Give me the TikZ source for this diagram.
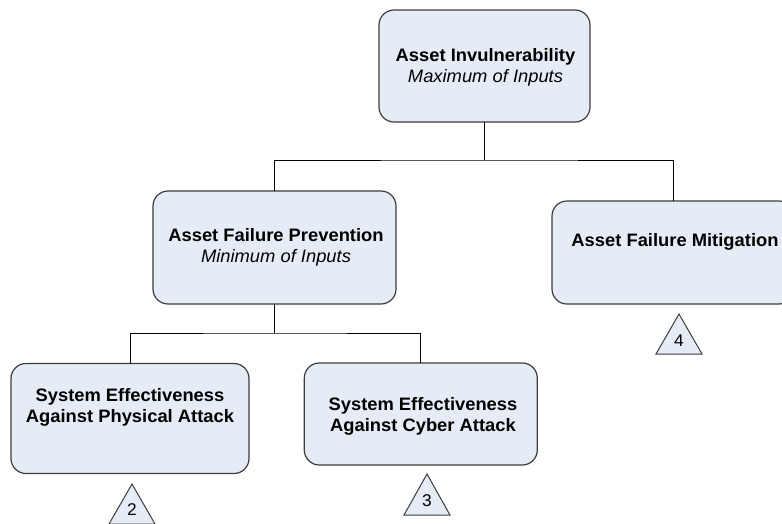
\documentclass[tikz,border=0pt]{standalone}
\usepackage{fontspec}
\setmainfont{Liberation Sans}[FakeStretch=1.02]
\definecolor{boxfill}{RGB}{230,236,246}
\definecolor{boxline}{RGB}{60,60,60}
\begin{document}
\begin{tikzpicture}[x=1pt,y=-1pt,
  treebox/.style={draw=boxline, fill=boxfill, line width=1.2pt,
    rounded corners=15pt, inner sep=0pt, outer sep=0pt},
  boxtext/.style={align=center, inner sep=0pt,
    font=\fontsize{18}{21}\selectfont},
  link/.style={draw=black, line width=1pt},
  tri/.style={draw=boxline, fill=boxfill, line width=1pt, line join=miter},
  trinum/.style={font=\fontsize{17}{17}\selectfont, inner sep=0pt}]
\useasboundingbox (0,0) rectangle (782,523);

% tree boxes
\node[treebox, minimum width=211pt, minimum height=112pt] (top)   at (484.5,66)  {};
\node[treebox, minimum width=243pt, minimum height=113pt] (prev)  at (274.5,247.5) {};
\node[treebox, minimum width=242pt, minimum height=103pt] (miti)  at (673,252.5) {};
\node[treebox, minimum width=238pt, minimum height=110pt] (phys)  at (130,418.5) {};
\node[treebox, minimum width=233pt, minimum height=102pt] (cyber) at (420.8,414) {};

% box labels
\node[boxtext] (topT) at (485.5,67)
  {\textbf{Asset Invulnerability}\\\textit{Maximum of Inputs}};
\node[boxtext] (prevT) at (276,247.5)
  {\textbf{Asset Failure Prevention}\\\textit{Minimum of Inputs}};
\node[boxtext, anchor=base] (mitiT) at (675,246) {\textbf{Asset Failure Mitigation}};
\node[boxtext] (physT) at (130,407.5)
  {\textbf{System Effectiveness}\\\textbf{Against Physical Attack}};
\node[boxtext] (cyberT) at (423,416)
  {\textbf{System Effectiveness}\\\textbf{Against Cyber Attack}};

% connectors
\coordinate (busA) at (484.5,160);
\coordinate (busB) at (274.5,333);
\draw[link] (top.south) -- (busA);
\draw[link] (prev.north) |- (busA) -| (miti.north);
\draw[link] (prev.south) -- (busB);
\draw[link] (phys.north) |- (busB) -| (cyber.north);

% off-page reference triangles
\draw[tri] (109,524) -- (132,484) -- (155,524) -- cycle;
\node[trinum] (ref2) at (132,510) {2};
\draw[tri] (404,515) -- (427,474) -- (450,515) -- cycle;
\node[trinum] (ref3) at (427,501) {3};
\draw[tri] (656,354) -- (679,314) -- (702,354) -- cycle;
\node[trinum] (ref4) at (679,341) {4};
\end{tikzpicture}
\end{document}
